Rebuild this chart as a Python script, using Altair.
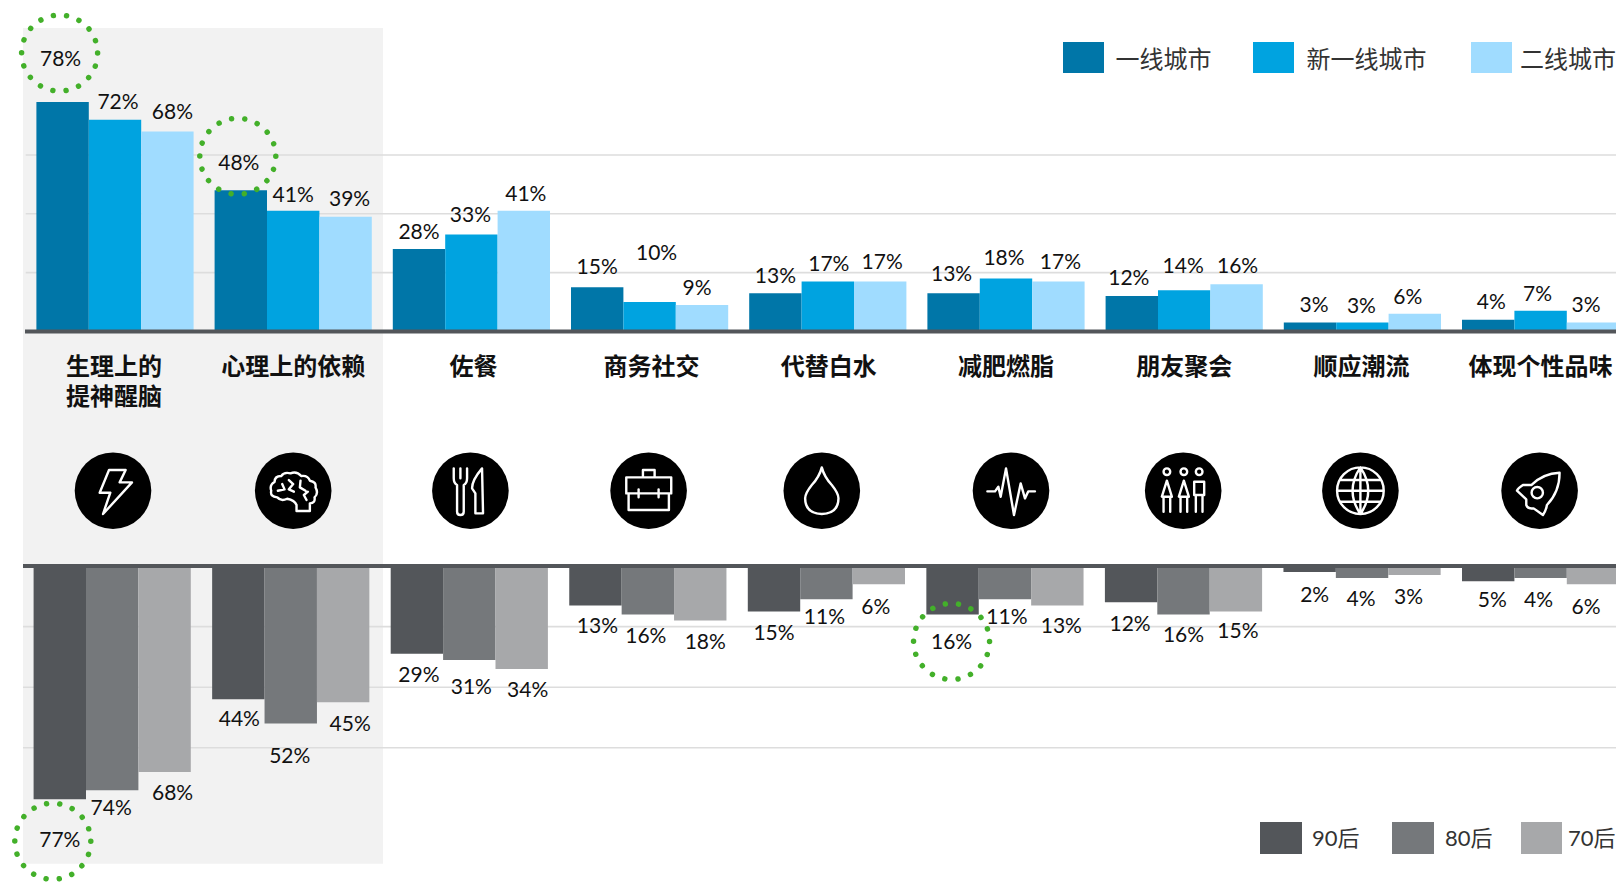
import re
import altair as alt
import pandas as pd

# ---------- data ----------
categories = ["生理上的\n提神醒脑", "心理上的依赖", "佐餐", "商务社交", "代替白水", "减肥燃脂", "朋友聚会", "顺应潮流", "体现个性品味"]
city_series = ["一线城市", "新一线城市", "二线城市"]
age_series = ["90后", "80后", "70后"]
city_tier1 = [78, 48, 28, 15, 13, 13, 12, 3, 4]
city_new_tier1 = [72, 41, 33, 10, 17, 18, 14, 3, 7]
city_tier2 = [68, 39, 41, 9, 17, 17, 16, 6, 3]
age_90s = [77, 44, 29, 13, 15, 16, 12, 2, 5]
age_80s = [74, 52, 31, 16, 11, 11, 16, 4, 4]
age_70s = [68, 45, 34, 18, 6, 13, 15, 3, 6]
grid_values = [20, 40, 60]

# ---------- manual label nudges, px, one row per category (as placed in the original) ----------
top_dx = [[-2, 3, 5], [-2, 0, 4], [0, -1, 2], [0, 7, -5], [0, 1, 2], [-2, -2, 2], [-3, -1, 1], [4, -1, -7], [3, -3, -7]]
top_dy = [[-25, 0, -1], [-9, 2, 0], [1, -1, 1], [-2, -31, 1], [1, 1, -1], [-1, -2, -1], [0, -6, 0], [0, 1, 1], [0, 1, 0]]
bot_dx = [[0, -1, 8], [1, -1, 7], [2, 2, 6], [2, -2, 5], [0, -2, -3], [-1, 2, 4], [-1, 0, 2], [5, -1, -6], [4, -2, -7]]
bot_dy = [[19, -4, -1], [-2, 10, 0], [-1, 5, -1], [-1, 0, -1], [0, -4, 1], [6, -4, -1], [0, -1, -2], [1, -1, 0], [-3, 0, 1]]
icon_dx = [-2, 0, -1, -1, -6, 5, -1, -2, -1]
cat_dx = [-1, 0, 2, 2, 1, 0, 0, -1, 0]
# (category, series, shift right px, shift down px) of the ringed labels
ring_top = [(0, 0, -1, -5), (1, 0, -1, -6)]
ring_bottom = [(0, 0, -7, 2), (5, 0, 0, 0)]

# ---------- layout ----------
PAGE = 8
W, H = 1608, 874
def px(v):
    return v - PAGE

TOP_X0, TOP_STEP = 36.4, 178.2
BOT_X0, BOT_STEP = 33.6, 178.55
BAR_W = 52.4
TOP_Y0, TOP_PP = 331.4, 2.94
BOT_Y0, BOT_PP = 566.0, 3.03
LABEL_GAP_TOP, LABEL_GAP_BOT = 19, 21

BLUES = ["#0076A8", "#00A3E0", "#A0DCFF"]
GREYS = ["#53565A", "#75787B", "#A7A8AA"]
GREEN = "#43B02A"
PANEL = "#F2F2F2"
GRID = "#DDDDDD"
FONT_NUM = "Lato"
FONT_CJK = "Noto Sans CJK SC"

x_top = alt.Scale(domain=[0, 9], range=[px(TOP_X0), px(TOP_X0) + 9 * TOP_STEP], nice=False, zero=False)
x_bot = alt.Scale(domain=[0, 9], range=[px(BOT_X0), px(BOT_X0) + 9 * BOT_STEP], nice=False, zero=False)
y_top = alt.Scale(domain=[0, 100], range=[px(TOP_Y0), px(TOP_Y0) - 100 * TOP_PP], nice=False)
y_bot = alt.Scale(domain=[0, 100], range=[px(BOT_Y0), px(BOT_Y0) + 100 * BOT_PP], nice=False)


def frame(rows, series, x_step, y_pp, dxs, dys, gap, sign):
    out = []
    w = BAR_W / x_step
    for i, cat in enumerate(categories):
        for j, name in enumerate(series):
            v = rows[j][i]
            out.append(dict(
                cat=cat, series=name, value=v, zero=0, label=f"{v}%",
                x0=i + j * w, x1=i + (j + 1) * w,
                lx=i + (j + 0.5) * w + dxs[i][j] / x_step,
                ly=v + (gap + dys[i][j] * sign) / y_pp,
            ))
    return pd.DataFrame(out)


top_df = frame([city_tier1, city_new_tier1, city_tier2], city_series, TOP_STEP, TOP_PP, top_dx, top_dy, LABEL_GAP_TOP, -1)
bot_df = frame([age_90s, age_80s, age_70s], age_series, BOT_STEP, BOT_PP, bot_dx, bot_dy, LABEL_GAP_BOT, 1)


def bars(df, xs, ys, names, colors):
    return alt.Chart(df).mark_rect().encode(
        x=alt.X("x0:Q", scale=xs, axis=None),
        x2="x1:Q",
        y=alt.Y("zero:Q", scale=ys, axis=None),
        y2="value:Q",
        color=alt.Color("series:N", scale=alt.Scale(domain=names, range=colors), legend=None),
    )


def value_labels(df, xs, ys):
    return alt.Chart(df).mark_text(font=FONT_NUM, fontSize=21, color="#111111", baseline="middle", align="center", dy=2).encode(
        x=alt.X("lx:Q", scale=xs, axis=None),
        y=alt.Y("ly:Q", scale=ys, axis=None),
        text="label:N",
    )


def grid(ys, x_from):
    return alt.Chart(pd.DataFrame({"g": grid_values})).mark_rule(color=GRID, strokeWidth=1.6).encode(
        y=alt.Y("g:Q", scale=ys, axis=None),
        x=alt.value(px(x_from)),
        x2=alt.value(W),
    )


def box(x0, x1, y0, y1, color):
    return alt.Chart(pd.DataFrame({"a": [0]})).mark_rect(color=color).encode(
        x=alt.value(px(x0)), x2=alt.value(min(px(x1), W)), y=alt.value(px(y0)), y2=alt.value(px(y1))
    )


def note(text, x, y, font, size, color="#333333", weight="normal", align="left"):
    return alt.Chart(pd.DataFrame({"t": [text]})).mark_text(
        font=font, fontSize=size, color=color, fontWeight=weight, align=align, baseline="middle"
    ).encode(text="t:N", x=alt.value(px(x)), y=alt.value(px(y)))


# ---------- icons: outlines traced in the zoom grid of each badge ----------
def ring(cx, cy, r):
    k = 0.5523 * r
    return (f"M{cx + r},{cy} C{cx + r},{cy + k} {cx + k},{cy + r} {cx},{cy + r} "
            f"C{cx - k},{cy + r} {cx - r},{cy + k} {cx - r},{cy} "
            f"C{cx - r},{cy - k} {cx - k},{cy - r} {cx},{cy - r} "
            f"C{cx + k},{cy - r} {cx + r},{cy - k} {cx + r},{cy} Z ")


def unit(path, cx, cy, r=115.0):
    def fix(m):
        return f"{(float(m.group(1)) - cx) / r:.3f},{(float(m.group(2)) - cy) / r:.3f}"
    return re.sub(r"(-?[\d.]+),(-?[\d.]+)", fix, path)


icon_paths = [
    unit("M118,60 L168,60 L150,97 L187,97 L100,192 L122,128 L90,128 Z", 130, 122),
    unit("M678,183 L718,183 L718,160 Q735,160 732,142 Q745,130 735,112 Q738,95 718,92 Q712,75 692,78 "
         "Q678,62 660,70 Q640,65 632,78 Q612,78 612,96 Q596,105 602,122 Q598,140 620,142 Q632,155 650,146 "
         "Q672,150 678,165 Z "
         "M622,122 L642,118 L635,102 M655,90 L668,102 L655,118 L670,125 M690,92 L688,112 L705,122 "
         "M712,125 L700,135 L708,150", 668, 122),
    unit("M70,55 L70,85 Q70,100 80,105 L80,185 Q80,195 90,195 Q100,195 100,185 L100,105 Q110,100 110,85 L110,55 "
         "M90,55 L90,85 M155,55 Q125,90 125,115 L135,130 L135,190 L158,190 Z", 120, 122),
    unit("M590,82 L725,82 L725,130 L590,130 Z M597,130 L597,180 L718,180 L718,130 "
         "M640,82 L640,60 L675,60 L675,82 M627,118 L627,142 M687,118 L687,142", 657, 122),
    unit("M125,52 Q118,80 95,105 Q75,130 75,145 Q75,190 125,192 Q175,190 175,145 Q175,130 155,105 Q132,80 125,52 Z", 125, 122),
    unit("M622,124 L645,124 L655,110 L662,140 L678,55 L702,195 L722,100 L735,145 L745,124 L765,124", 693, 122),
    unit(ring(1161, 65, 10) + ring(1212, 65, 10) + ring(1258, 65, 10) +
         "M1161,92 L1146,140 L1176,140 Z M1151,140 L1151,185 M1171,140 L1171,185 "
         "M1212,92 L1197,140 L1227,140 Z M1202,140 L1202,185 M1222,140 L1222,185 "
         "M1243,95 L1273,95 L1273,135 L1243,135 Z M1248,135 L1248,185 M1268,135 L1268,185", 1210, 122),
    unit(ring(152, 122, 70) +
         "M152,52 Q105,122 152,192 Q199,122 152,52 Z M152,52 L152,192 M82,122 L222,122 M92,90 L212,90 M92,155 L212,155", 152, 122),
    unit("M750,68 Q700,70 665,105 L640,105 Q625,115 622,122 L650,148 L650,165 Q655,178 672,175 L700,195 "
         "Q710,180 712,165 Q750,125 750,68 Z " + ring(683, 128, 17), 690, 122),
]

ICON_Y = 490.7
ICON_R = 38.3
mid_df = pd.DataFrame({
    "cat": categories,
    "ix": [i + 0.5 * (3 * BAR_W) / TOP_STEP + icon_dx[i] / TOP_STEP for i in range(9)],
    "tx": [i + 0.5 * (3 * BAR_W) / TOP_STEP + cat_dx[i] / TOP_STEP for i in range(9)],
})
mid_x = alt.X("ix:Q", scale=x_top, axis=None)

badges = alt.Chart(mid_df).mark_point(shape="circle", filled=True, color="black", opacity=1, size=(2 * ICON_R) ** 2).encode(
    x=mid_x, y=alt.value(px(ICON_Y))
)
icon_layers = []
for i, path in enumerate(icon_paths):
    icon_layers.append(
        alt.Chart(mid_df.iloc[[i]]).mark_point(
            shape=path, filled=False, fill="transparent", stroke="white", strokeWidth=2.4, opacity=1,
            strokeJoin="round", strokeCap="round", size=(2 * ICON_R) ** 2,
        ).encode(x=mid_x, y=alt.value(px(ICON_Y)))
    )

cat_layer = alt.Chart(mid_df).mark_text(
    font=FONT_CJK, fontSize=24, fontWeight="bold", color="#111111", baseline="top", lineBreak="\n", lineHeight=30
).encode(x=alt.X("tx:Q", scale=x_top, axis=None), y=alt.value(px(356)), text="cat:N")


# ---------- dotted rings round the highlighted labels ----------
def rings(df, picks, xs, ys, x_step, y_pp, sign):
    rows = []
    for c, s, dx, dy in picks:
        r = df.iloc[c * 3 + s]
        rows.append({"rx": r["lx"] + dx / x_step, "ry": r["ly"] + sign * dy / y_pp})
    return alt.Chart(pd.DataFrame(rows)).mark_point(
        shape="circle", filled=False, fill="transparent", stroke=GREEN, strokeWidth=5.5, opacity=1,
        strokeCap="round", strokeDash=[0.01, 13.26], size=76 ** 2,
    ).encode(x=alt.X("rx:Q", scale=xs, axis=None), y=alt.Y("ry:Q", scale=ys, axis=None))


# ---------- hand-placed legends (last entries tucked in so their text stays whole) ----------
legend_layers = []
for name, c, (a, b, t) in zip(city_series, BLUES, [(1063, 1104, 1115.4), (1253, 1294, 1306.4), (1471, 1512, 1520)]):
    legend_layers += [box(a, b, 42, 73, c), note(name, t, 60.5, FONT_CJK, 24)]
for name, c, (a, b, t) in zip(age_series, GREYS, [(1260, 1302, 1312), (1392, 1434, 1445), (1521, 1562, 1568)]):
    legend_layers += [box(a, b, 822, 854, c), note(name, t, 838.7, f"{FONT_NUM}, {FONT_CJK}", 22)]

layers = [
    box(23, 383, 28, 863.7, PANEL),
    grid(y_top, 25.7),
    grid(y_bot, 23),
    bars(top_df, x_top, y_top, city_series, BLUES),
    bars(bot_df, x_bot, y_bot, age_series, GREYS),
    box(25, 1624, 329.4, 333.4, "#53565A"),
    box(23, 1624, 564, 568, "#53565A"),
    value_labels(top_df, x_top, y_top),
    value_labels(bot_df, x_bot, y_bot),
    cat_layer,
    badges,
    *icon_layers,
    rings(top_df, ring_top, x_top, y_top, TOP_STEP, TOP_PP, -1),
    rings(bot_df, ring_bottom, x_bot, y_bot, BOT_STEP, BOT_PP, 1),
    *legend_layers,
]

chart = alt.layer(*layers).resolve_scale(x="independent", y="independent", color="independent").properties(
    width=W, height=H, padding=0, autosize=alt.AutoSizeParams(type="none"),
).configure_view(stroke=None)

chart.save("out.html", embed_options={"renderer": "svg", "actions": False})
